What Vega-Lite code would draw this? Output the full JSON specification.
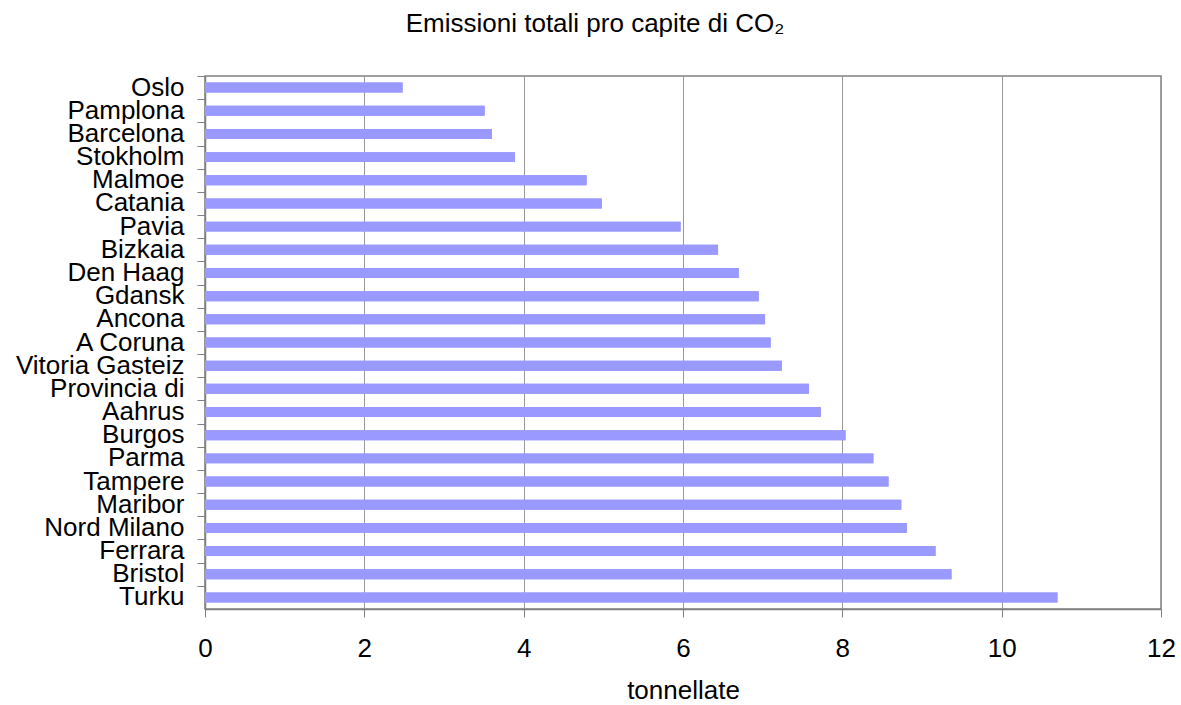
{
  "$schema": "https://vega.github.io/schema/vega-lite/v6.json",
  "width": 956,
  "height": 533,
  "autosize": {"type": "none"},
  "padding": {"left": 205, "top": 76, "right": 20, "bottom": 96},
  "background": "white",
  "config": {
    "font": "Liberation Sans",
    "view": {"stroke": "#808080", "strokeWidth": 1.5}
  },
  "title": {
    "text": "Emissioni totali pro capite di CO₂",
    "fontSize": 26,
    "fontWeight": "normal",
    "font": "Liberation Sans",
    "color": "black",
    "anchor": "middle",
    "frame": "group",
    "dx": -88,
    "offset": 16,
    "baseline": "alphabetic"
  },
  "data": {
    "values": [
      {"citta": "Oslo", "tonnellate": 2.48},
      {"citta": "Pamplona", "tonnellate": 3.51},
      {"citta": "Barcelona", "tonnellate": 3.60},
      {"citta": "Stokholm", "tonnellate": 3.89},
      {"citta": "Malmoe", "tonnellate": 4.79},
      {"citta": "Catania", "tonnellate": 4.98},
      {"citta": "Pavia", "tonnellate": 5.97},
      {"citta": "Bizkaia", "tonnellate": 6.44},
      {"citta": "Den Haag", "tonnellate": 6.70},
      {"citta": "Gdansk", "tonnellate": 6.95},
      {"citta": "Ancona", "tonnellate": 7.03},
      {"citta": "A Coruna", "tonnellate": 7.10},
      {"citta": "Vitoria Gasteiz", "tonnellate": 7.24},
      {"citta": "Provincia di", "tonnellate": 7.58},
      {"citta": "Aahrus", "tonnellate": 7.73},
      {"citta": "Burgos", "tonnellate": 8.04},
      {"citta": "Parma", "tonnellate": 8.39},
      {"citta": "Tampere", "tonnellate": 8.58},
      {"citta": "Maribor", "tonnellate": 8.74},
      {"citta": "Nord Milano", "tonnellate": 8.81},
      {"citta": "Ferrara", "tonnellate": 9.17},
      {"citta": "Bristol", "tonnellate": 9.37},
      {"citta": "Turku", "tonnellate": 10.70}
    ]
  },
  "layer": [
    {
      "mark": {"type": "bar", "color": "#9999FF"},
      "encoding": {
        "y": {
          "field": "citta",
          "type": "nominal",
          "sort": null,
          "scale": {"paddingInner": 0.57, "paddingOuter": 0.285},
          "axis": {
            "orient": "left",
            "title": null,
            "ticks": false,
            "tickSize": 0,
            "domain": false,
            "grid": false,
            "labelPadding": 21,
            "labelFontSize": 26,
            "labelColor": "black",
            "labelFont": "Liberation Sans",
            "labelLimit": 0
          }
        },
        "x": {
          "field": "tonnellate",
          "type": "quantitative",
          "scale": {"domain": [0, 12], "nice": false},
          "axis": {
            "title": "tonnellate",
            "values": [0, 2, 4, 6, 8, 10, 12],
            "format": "d",
            "labelFlush": false,
            "grid": true,
            "gridColor": "#999999",
            "gridWidth": 1,
            "domainColor": "#808080",
            "domainWidth": 1.5,
            "tickColor": "#808080",
            "tickWidth": 1,
            "tickSize": 8,
            "labelFontSize": 26,
            "labelFont": "Liberation Sans",
            "labelPadding": 18,
            "labelColor": "black",
            "titleFontSize": 26,
            "titleFont": "Liberation Sans",
            "titleFontWeight": "normal",
            "titlePadding": 16,
            "titleColor": "black"
          }
        }
      }
    },
    {
      "mark": {"type": "bar", "color": "#9999FF"},
      "encoding": {
        "y": {
          "field": "citta",
          "type": "nominal",
          "sort": null,
          "scale": {"paddingInner": 0.57, "paddingOuter": 0.285},
          "axis": {
            "orient": "left",
            "title": null,
            "labels": false,
            "ticks": true,
            "tickSize": 8,
            "tickColor": "#808080",
            "tickWidth": 1,
            "bandPosition": 0,
            "tickOffset": -6.6,
            "domain": true,
            "domainColor": "#808080",
            "domainWidth": 1.5,
            "grid": false
          }
        },
        "x": {"field": "tonnellate", "type": "quantitative"}
      }
    }
  ],
  "resolve": {"axis": {"y": "independent"}}
}
